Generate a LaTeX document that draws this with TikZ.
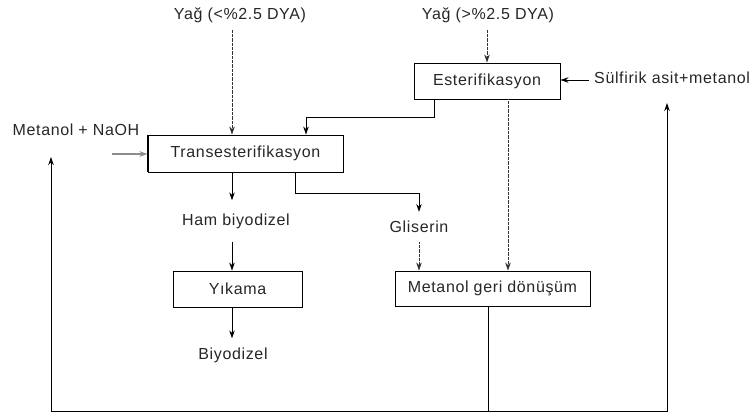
\documentclass[tikz,border=0pt]{standalone}
\usepackage{fontspec}
\setmainfont[LetterSpace=4]{Liberation Sans}
\usetikzlibrary{arrows.meta}
\begin{document}
\begin{tikzpicture}[x=1pt,y=-1pt,
  every node/.style={font=\fontsize{16}{19}\selectfont, text=black!85},
  procbox/.style={draw, line width=0.9pt, minimum width=#1, minimum height=36pt, inner sep=0pt},
  lbl/.style={inner xsep=0pt, inner ysep=#1},
  arr/.style={line width=0.9pt, -{Stealth[length=8pt,width=5.5pt]}},
  dotarr/.style={line width=0.9pt, draw=black!80, dash pattern=on 1pt off 0.3pt, -{Stealth[length=8pt,width=5.5pt,fill=black]}},
  grayarr/.style={line width=1.3pt, draw=black!45, -{Stealth[length=8pt,width=5.5pt,fill=black]}},
  plain/.style={line width=0.9pt}]
\useasboundingbox (0,0) rectangle (753,416);

% boxes
\node[procbox=195pt, minimum height=37pt] (tr) at (245.5,153.5) {Transesterifikasyon};
\node[procbox=146pt] (es) at (487,81) {Esterifikasyon};
\node[procbox=129pt] (yk) at (237.5,289) {Yıkama};
\node[procbox=195pt, minimum height=35pt] (mg) at (492.5,288.5) {Metanol geri dönüşüm};
\draw[line width=1.8pt] (tr.north west) -- (tr.south west);

% labels
\node[lbl=7pt] (yag1) at (240,15) {Yağ (<\%2.5 DYA)};
\node[lbl=7pt] (yag2) at (488,15) {Yağ (>\%2.5 DYA)};
\node[lbl=2pt] (naoh) at (76,130) {Metanol + NaOH};
\node[lbl=2pt, anchor=west] (sulf) at (594,78) {Sülfirik asit+metanol};
\node[lbl=13pt] (ham) at (236,221) {Ham biyodizel};
\node[lbl=9pt] (gli) at (419,227) {Gliserin};
\node[lbl=9pt] (biyo) at (233,355) {Biyodizel};

% coordinates for connector routing
\coordinate (a1) at (232,0);
\coordinate (b1) at (434,117);
\coordinate (b2) at (306,117);
\coordinate (c1) at (295,193);
\coordinate (d1) at (508,0);
\coordinate (g1) at (112,154);
\coordinate (s1) at (589,80);
\coordinate (e1) at (488,411);
\coordinate (f1) at (51,157);
\coordinate (f2) at (667,103);

% connectors
\draw[dotarr] (a1 |- yag1.south) -- (a1 |- tr.north);
\draw[dotarr] (yag2.south -| es.north) -- (es.north);
\draw[arr] (s1) -- (s1 -| es.east);
\draw[grayarr] (g1) -- (g1 -| tr.west);
\draw[arr] (b1 |- es.south) -- (b1) -- (b2) -- (b2 |- tr.north);
\draw[dotarr] (d1 |- es.south) -- (d1 |- mg.north);
\draw[arr] (a1 |- tr.south) -- (a1 |- ham.north);
\draw[arr] (a1 |- ham.south) -- (a1 |- yk.north);
\draw[arr] (a1 |- yk.south) -- (a1 |- biyo.north);
\draw[arr] (c1 |- tr.south) -- (c1) -| (gli.north);
\draw[dotarr] (gli.south) -- (gli.south |- mg.north);
\draw[plain] (e1 |- mg.south) -- (e1);
\draw[arr] (e1) -| (f1);
\draw[arr] (e1) -| (f2);
\end{tikzpicture}
\end{document}
